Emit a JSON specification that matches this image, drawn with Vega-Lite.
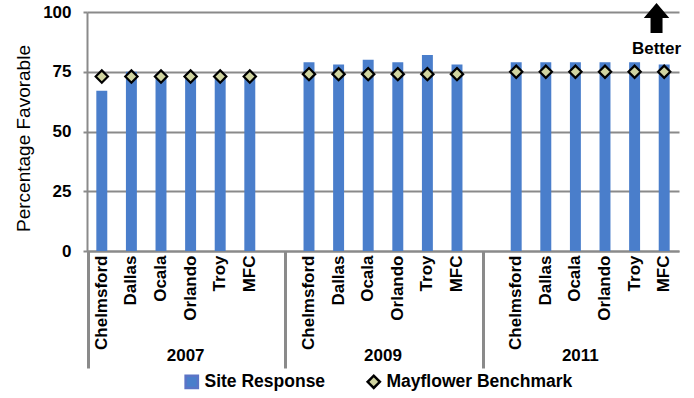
{
  "$schema": "https://vega.github.io/schema/vega-lite/v6.json",
  "width": 592,
  "height": 239,
  "autosize": {"type": "none"},
  "padding": {"left": 87, "top": 12, "right": 15, "bottom": 147},
  "background": "white",
  "config": {
    "view": {"stroke": null},
    "font": "Liberation Sans",
    "axis": {"labelFont": "Liberation Sans", "titleFont": "Liberation Sans"},
    "legend": {"labelFont": "Liberation Sans"}
  },
  "datasets": {
    "sites": [
      {"year": "2007", "site": "Chelmsford", "key": "2007 Chelmsford", "response": 67, "benchmark": 73},
      {"year": "2007", "site": "Dallas", "key": "2007 Dallas", "response": 75, "benchmark": 73},
      {"year": "2007", "site": "Ocala", "key": "2007 Ocala", "response": 74, "benchmark": 73},
      {"year": "2007", "site": "Orlando", "key": "2007 Orlando", "response": 74, "benchmark": 73},
      {"year": "2007", "site": "Troy", "key": "2007 Troy", "response": 74, "benchmark": 73},
      {"year": "2007", "site": "MFC", "key": "2007 MFC", "response": 74, "benchmark": 73},
      {"year": "2009", "site": "Chelmsford", "key": "2009 Chelmsford", "response": 79, "benchmark": 74},
      {"year": "2009", "site": "Dallas", "key": "2009 Dallas", "response": 78, "benchmark": 74},
      {"year": "2009", "site": "Ocala", "key": "2009 Ocala", "response": 80, "benchmark": 74},
      {"year": "2009", "site": "Orlando", "key": "2009 Orlando", "response": 79, "benchmark": 74},
      {"year": "2009", "site": "Troy", "key": "2009 Troy", "response": 82, "benchmark": 74},
      {"year": "2009", "site": "MFC", "key": "2009 MFC", "response": 78, "benchmark": 74},
      {"year": "2011", "site": "Chelmsford", "key": "2011 Chelmsford", "response": 79, "benchmark": 75},
      {"year": "2011", "site": "Dallas", "key": "2011 Dallas", "response": 79, "benchmark": 75},
      {"year": "2011", "site": "Ocala", "key": "2011 Ocala", "response": 79, "benchmark": 75},
      {"year": "2011", "site": "Orlando", "key": "2011 Orlando", "response": 79, "benchmark": 75},
      {"year": "2011", "site": "Troy", "key": "2011 Troy", "response": 79, "benchmark": 75},
      {"year": "2011", "site": "MFC", "key": "2011 MFC", "response": 78, "benchmark": 75}
    ],
    "notes": [
      {"key": "2011 MFC", "value": 84.5, "label": "Better", "kind": "text"},
      {"key": "2011 MFC", "value": 97.5, "label": "", "kind": "arrow"}
    ]
  },
  "layer": [
    {
      "data": {"name": "sites"},
      "layer": [
        {
          "mark": {"type": "bar", "color": "#4a7ecb"},
          "encoding": {
            "x": {
              "field": "key",
              "type": "nominal",
              "sort": null,
              "scale": {
                "domain": ["2007 Chelmsford", "2007 Dallas", "2007 Ocala", "2007 Orlando", "2007 Troy", "2007 MFC", "gap1",
                           "2009 Chelmsford", "2009 Dallas", "2009 Ocala", "2009 Orlando", "2009 Troy", "2009 MFC", "gap2",
                           "2011 Chelmsford", "2011 Dallas", "2011 Ocala", "2011 Orlando", "2011 Troy", "2011 MFC"],
                "paddingInner": 0.63,
                "paddingOuter": 0.315
              },
              "axis": {
                "orient": "bottom",
                "title": null,
                "labelAngle": -90,
                "labelAlign": "right",
                "labelBaseline": "middle",
                "labelOverlap": false,
                "labelExpr": "indexof(datum.value, 'gap') == 0 ? '' : split(datum.value, ' ')[1]",
                "labelFontSize": 17,
                "labelFontWeight": "bold",
                "labelColor": "black",
                "labelPadding": -113,
                "tickSize": 117,
                "tickWidth": 2,
                "tickColor": "#8a8a8a",
                "tickOpacity": 0,
                "domainColor": "#8a8a8a",
                "domainWidth": 2,
                "grid": false
              }
            },
            "y": {
              "field": "response",
              "type": "quantitative",
              "scale": {"domain": [0, 100]},
              "axis": {
                "title": "Percentage Favorable",
                "values": [0, 25, 50, 75, 100],
                "grid": true,
                "gridColor": "#8a8a8a",
                "gridWidth": 2,
                "domainColor": "#8a8a8a",
                "domainWidth": 2,
                "tickColor": "#8a8a8a",
                "tickWidth": 2,
                "tickSize": 4,
                "labelPadding": 12,
                "labelFontSize": 17,
                "labelFontWeight": "bold",
                "labelColor": "black",
                "titleFontSize": 19,
                "titleFontWeight": "normal",
                "titleColor": "black",
                "titlePadding": 9,
                "titleY": 126
              }
            },
            "color": {
              "datum": "Site Response",
              "type": "nominal",
              "scale": {"domain": ["Site Response", "Mayflower Benchmark"], "range": ["#4a7ecb", "#d0d4a0"]},
              "legend": {
                "title": null,
                "orient": "none",
                "legendX": 96,
                "legendY": 361,
                "direction": "horizontal",
                "labelFontSize": 17.5,
                "labelFontWeight": "bold",
                "labelColor": "black",
                "labelLimit": 400,
                "symbolSize": 150,
                "columnPadding": 36,
                "labelOffset": 4,
                "encode": {
                  "symbols": {
                    "update": {
                      "shape": {"signal": "datum.value === 'Site Response' ? 'square' : 'diamond'"},
                      "fill": {"signal": "datum.value === 'Site Response' ? '#5b74c6' : 'white'"},
                      "stroke": {"signal": "datum.value === 'Site Response' ? '#5b74c6' : 'black'"},
                      "strokeWidth": {"value": 2.5},
                      "opacity": {"value": 1}
                    }
                  }
                }
              }
            }
          }
        },
        {
          "mark": {"type": "point", "shape": "diamond", "filled": true, "size": 150, "stroke": "black", "strokeWidth": 2.2, "opacity": 1},
          "encoding": {
            "x": {"field": "key", "type": "nominal"},
            "y": {"field": "benchmark", "type": "quantitative"},
            "color": {"datum": "Mayflower Benchmark", "type": "nominal"}
          }
        },
        {
          "data": {"name": "notes"},
          "transform": [{"filter": "datum.kind == 'text'"}],
          "mark": {"type": "text", "fontSize": 17, "fontWeight": "bold", "color": "black"},
          "encoding": {
            "x": {"field": "key", "type": "nominal", "bandPosition": -0.2},
            "y": {"field": "value", "type": "quantitative"},
            "text": {"field": "label"}
          }
        },
        {
          "data": {"name": "notes"},
          "transform": [{"filter": "datum.kind == 'arrow'"}],
          "mark": {"type": "point", "shape": "M0,-1L0.85,0L0.4,0L0.4,1L-0.4,1L-0.4,0L-0.85,0Z", "filled": true, "size": 900, "color": "black", "opacity": 1},
          "encoding": {
            "x": {"field": "key", "type": "nominal", "bandPosition": -0.2},
            "y": {"field": "value", "type": "quantitative"}
          }
        }
      ]
    },
    {
      "data": {"name": "sites"},
      "mark": {"type": "rule", "opacity": 0},
      "encoding": {
        "x": {
          "field": "year",
          "type": "nominal",
          "scale": {"type": "band", "paddingInner": 0, "paddingOuter": 0},
          "axis": {
            "orient": "bottom",
            "title": null,
            "domain": false,
            "grid": false,
            "ticks": false,
            "labelAngle": 0,
            "labelPadding": 96,
            "labelFontSize": 17,
            "labelFontWeight": "bold",
            "labelColor": "black"
          }
        }
      }
    },
    {
      "data": {"name": "sites"},
      "mark": {"type": "rule", "opacity": 0},
      "encoding": {
        "x": {
          "field": "year",
          "type": "nominal",
          "scale": {"type": "band", "paddingInner": 0, "paddingOuter": 0},
          "axis": {
            "orient": "bottom",
            "title": null,
            "domain": false,
            "grid": false,
            "labels": false,
            "bandPosition": 0,
            "tickOffset": 1,
            "tickSize": 117,
            "tickWidth": 3,
            "tickColor": "#8a8a8a",
            "tickOpacity": 1
          }
        }
      }
    }
  ],
  "resolve": {"scale": {"x": "independent"}}
}
